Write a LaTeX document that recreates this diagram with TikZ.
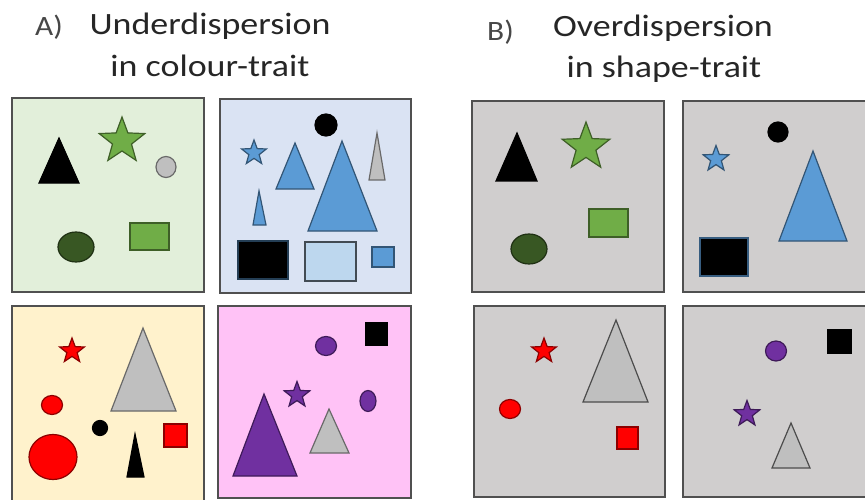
\documentclass[tikz,border=0pt]{standalone}
\usepackage{fontspec}
\setmainfont{Carlito}
\usetikzlibrary{shapes.geometric}
\definecolor{bgG}{HTML}{E2EFDA}
\definecolor{bgB}{HTML}{DAE3F3}
\definecolor{bgY}{HTML}{FFF2CC}
\definecolor{bgP}{HTML}{FFC2F6}
\definecolor{bgGr}{HTML}{D0CECE}
\definecolor{frame}{HTML}{505050}
\definecolor{txt}{HTML}{262626}
\definecolor{gLight}{HTML}{70AD47}
\definecolor{gDark}{HTML}{385723}
\definecolor{grey}{HTML}{BFBFBF}
\definecolor{blueM}{HTML}{5B9BD5}
\definecolor{blueL}{HTML}{BDD7EE}
\definecolor{redM}{HTML}{FF0000}
\definecolor{purp}{HTML}{7030A0}
\begin{document}
\begin{tikzpicture}[x=1pt,y=-1pt,
  panel/.style={draw=frame, line width=1.5pt},
  shp/.style={line width=1.2pt, draw=#1!55!black, fill=#1},
  shp/.default=black,
  starshape/.style={star, star points=5, star point ratio=2.4, inner sep=0pt,
     line width=1.2pt, draw=#1!55!black, fill=#1},
  title/.style={text=txt, inner sep=0pt, anchor=base, xscale=1.16, font=\fontsize{31}{36}\selectfont},
  lab/.style={text=txt!85!white, inner sep=0pt, anchor=base west, xscale=1.12, font=\fontsize{28}{32}\selectfont}]
\useasboundingbox (0,0) rectangle (865,500);
\fill[white] (0,0) rectangle (865,500);
\clip (0,0) rectangle (865,500);

% titles
\node[lab] (la) at (35,36) {A)};
\node[title] (t1) at (210,35) {Underdispersion};
\node[title] (t2) at (210,77) {in colour-trait};
\node[lab] (lb) at (487,41) {B)};
\node[title] (t3) at (663,37) {Overdispersion};
\node[title] (t4) at (664,78) {in shape-trait};

% ---------- Panel A top-left (green)
\draw[panel, fill=bgG] (12,98) rectangle (204,292);
\draw[shp=black] (59,138) -- (79,183) -- (39,183) -- cycle;
\node[starshape=gLight, minimum size=48pt] at (122,141) {};
\draw[shp=grey] (166,167) ellipse [x radius=10, y radius=10.5];
\draw[shp=gDark] (76,247) ellipse [x radius=18, y radius=15];
\draw[shp=gLight] (130,223) rectangle (169,250);

% ---------- Panel A top-right (blue)
\draw[panel, fill=bgB] (220,99) rectangle (411,293);
\draw[shp=black] (326,125) circle [radius=11];
\node[starshape=blueM, minimum size=26pt] at (254,153) {};
\draw[shp=blueM] (295,143) -- (314,189) -- (276,189) -- cycle;
\draw[shp=blueM] (342,141) -- (377,231) -- (308,231) -- cycle;
\draw[shp=grey] (377,133) -- (385,180) -- (369,180) -- cycle;
\draw[shp=blueM] (259,191) -- (266,225) -- (253,225) -- cycle;
\draw[shp=black, draw=blueM!40!black] (238,241) rectangle (288,279);
\draw[shp=blueL, draw=blueL!35!black] (305,242) rectangle (356,281);
\draw[shp=blueM] (372,247) rectangle (394,267);

% ---------- Panel A bottom-left (yellow)
\draw[panel, fill=bgY] (12,306) rectangle (204,510);
\node[starshape=redM, minimum size=26pt] at (72,351) {};
\draw[shp=grey] (143,328) -- (176,411) -- (111,411) -- cycle;
\draw[shp=redM] (52,405) ellipse [x radius=10.5, y radius=9.5];
\draw[shp=black] (100,428) circle [radius=7.5];
\draw[shp=redM] (164,424) rectangle (187,447);
\draw[shp=redM] (53,457) ellipse [x radius=24, y radius=22.5];
\draw[shp=black] (135,434) -- (144,477) -- (127,477) -- cycle;

% ---------- Panel A bottom-right (pink)
\draw[panel, fill=bgP] (218,306) rectangle (411,498);
\draw[shp=black] (366,323) rectangle (387,345);
\draw[shp=purp] (326,346) ellipse [x radius=10.5, y radius=9.5];
\node[starshape=purp, minimum size=27pt] at (297,395) {};
\draw[shp=purp] (368,401) ellipse [x radius=8, y radius=10.5];
\draw[shp=purp] (264,394) -- (297,476) -- (233,476) -- cycle;
\draw[shp=grey] (329,409) -- (349,453) -- (310,453) -- cycle;

% ---------- Panel B top-left
\draw[panel, fill=bgGr] (472,101) rectangle (664,292);
\draw[shp=black] (517,133) -- (537,181) -- (496,181) -- cycle;
\node[starshape=gLight, minimum size=50pt] at (586,147) {};
\draw[shp=gLight] (589,209) rectangle (628,237);
\draw[shp=gDark] (529,249) ellipse [x radius=18, y radius=15];

% ---------- Panel B top-right
\draw[panel, fill=bgGr] (683,101) rectangle (880,292);
\draw[shp=black] (778,132) circle [radius=10];
\node[starshape=blueM, minimum size=27pt] at (716,159) {};
\draw[shp=blueM] (813,151) -- (847,241) -- (779,241) -- cycle;
\draw[shp=black, draw=blueM!60!black] (700,238) rectangle (748,276);

% ---------- Panel B bottom-left
\draw[panel, fill=bgGr] (474,306) rectangle (665,497);
\node[starshape=redM, minimum size=26pt] at (544,351) {};
\draw[shp=grey, draw=black!70] (616,320) -- (648,402) -- (583,402) -- cycle;
\draw[shp=redM] (510,409) ellipse [x radius=10.5, y radius=9.5];
\draw[shp=redM] (617,427) rectangle (638,449);

% ---------- Panel B bottom-right
\draw[panel, fill=bgGr] (683,306) rectangle (880,497);
\draw[shp=black] (828,330) rectangle (851,353);
\draw[shp=purp] (776,351) ellipse [x radius=10.5, y radius=10];
\node[starshape=purp, minimum size=27pt] at (747,414) {};
\draw[shp=grey, draw=black!70] (791,423) -- (810,468) -- (772,468) -- cycle;
\end{tikzpicture}
\end{document}
